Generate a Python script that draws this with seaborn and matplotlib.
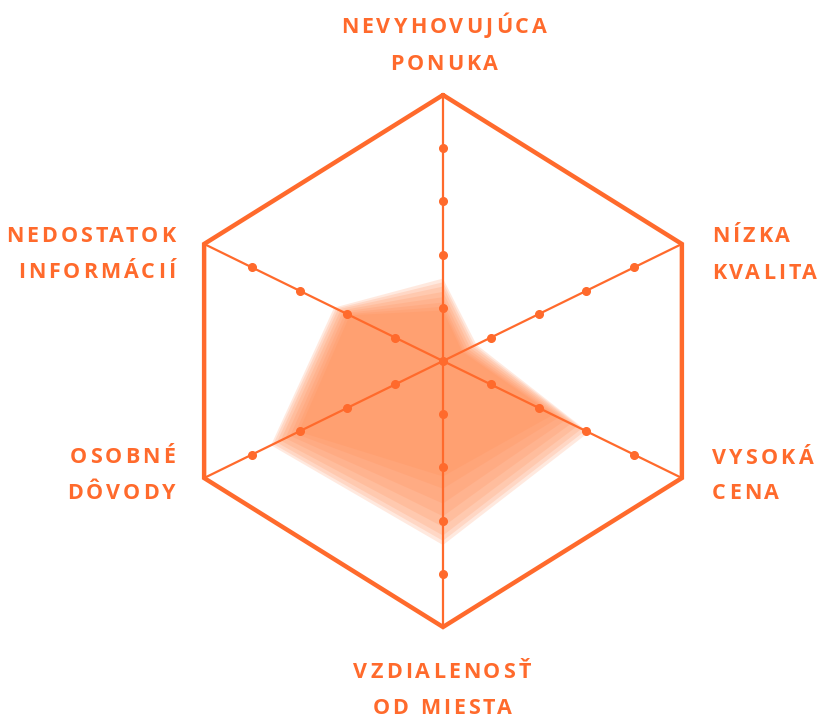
import numpy as np
import matplotlib
matplotlib.use("Agg")
import matplotlib.pyplot as plt
import seaborn as sns

# axes of the radar, clockwise from the top
categories = [["NEVYHOVUJÚCA", "PONUKA"], ["NÍZKA", "KVALITA"], ["VYSOKÁ", "CENA"],
              ["VZDIALENOSŤ", "OD MIESTA"], ["OSOBNÉ", "DÔVODY"], ["NEDOSTATOK", "INFORMÁCIÍ"]]
scale_max = 5
scale_ticks = [1, 2, 3, 4]

# stacked translucent layers (outer -> inner), same axis order as categories
layer_1 = [1.55, 0.70, 3.05, 3.46, 3.60, 2.28]
layer_2 = [1.48, 0.66, 2.98, 3.38, 3.55, 2.24]
layer_3 = [1.40, 0.62, 2.90, 3.28, 3.48, 2.20]
layer_4 = [1.30, 0.57, 2.80, 3.12, 3.40, 2.15]
layer_5 = [1.20, 0.52, 2.68, 2.92, 3.30, 2.10]
layer_6 = [1.10, 0.47, 2.55, 2.68, 3.20, 2.05]
layer_7 = [1.02, 0.43, 2.42, 2.40, 3.10, 2.00]
layer_8 = [0.95, 0.40, 2.30, 2.17, 3.02, 1.95]
layers = [layer_1, layer_2, layer_3, layer_4, layer_5, layer_6, layer_7, layer_8]

# spoke directions as drawn in the original (degrees clockwise from top)
spoke_deg = [0, 63.9, 116.1, 180, 243.9, 296.1]

line_color = "#FF6A2C"
fill_color = "#FF8A50"

W, H = 818, 718


def SpacedText(fig, x, y, s, ha, gap, **kw):
    # draw text char by char with extra letter spacing (pixel coords)
    r = fig.canvas.get_renderer()

    def width(t):
        if not t.strip():
            return 0.0
        tmp = fig.text(0, 0, t, **kw)
        w = tmp.get_window_extent(r).width
        tmp.remove()
        return w

    full = width(s) + gap * (len(s) - 1)
    if ha == "center":
        x0 = x - full / 2
    elif ha == "right":
        x0 = x - full
    else:
        x0 = x
    for i, ch in enumerate(s):
        if ch == " ":
            continue
        left = width(s[:i + 1]) - width(ch) + gap * i
        fig.text((x0 + left) / W, 1 - y / H, ch, ha="left", va="baseline", **kw)


def RadarChart():
    sns.set_style("white")
    plt.rcParams["font.family"] = ["Open Sans", "DejaVu Sans"]

    fig = plt.figure(figsize=(W / 100, H / 100), dpi=100)
    cx, cy, rad = 443, 361, 266
    ax = fig.add_axes([(cx - rad) / W, (H - cy - rad) / H, 2 * rad / W, 2 * rad / H],
                      projection="polar")
    ax.set_theta_offset(np.pi / 2)
    ax.set_theta_direction(-1)
    ax.set_ylim(0, scale_max)
    ax.grid(False)
    ax.spines["polar"].set_visible(False)
    ax.set_xticks([])
    ax.set_yticks([])
    ax.patch.set_alpha(0)

    n = len(categories)
    angles = list(np.deg2rad(spoke_deg))
    closed = angles + angles[:1]

    # filled layers
    for vals in layers:
        ax.fill(closed, vals + vals[:1], color=fill_color, alpha=0.18, lw=0, zorder=1)

    # spokes with tick dots
    for a in angles:
        ax.plot([a, a], [0, scale_max], color=line_color, lw=1.6, zorder=2)
        ax.plot([a] * len(scale_ticks), scale_ticks, "o", color=line_color,
                ms=5.5, zorder=3)
    ax.plot([0], [0], "o", color=line_color, ms=5.5, zorder=3)

    # outer hexagon
    ax.plot(closed, [scale_max] * (n + 1), color=line_color, lw=3.2,
            solid_joinstyle="miter", clip_on=False, zorder=3)

    # labels: (x, cap-centre y of each line, alignment) in pixels
    label_pos = [(444, [25.5, 62], "center"), (712, [234.7, 271], "left"),
                 (712, [455.8, 491], "left"), (442, [670.5, 706.7], "center"),
                 (175, [455, 491], "right"), (175, [233.8, 270.5], "right")]
    style = dict(color=line_color, fontsize=15.5, fontweight="bold")
    for lines, (x, ys, ha) in zip(categories, label_pos):
        for line, y in zip(lines, ys):
            SpacedText(fig, x, y + 7.7, line, ha, 3.0, **style)

    fig.savefig("out.png", dpi=100)


RadarChart()
